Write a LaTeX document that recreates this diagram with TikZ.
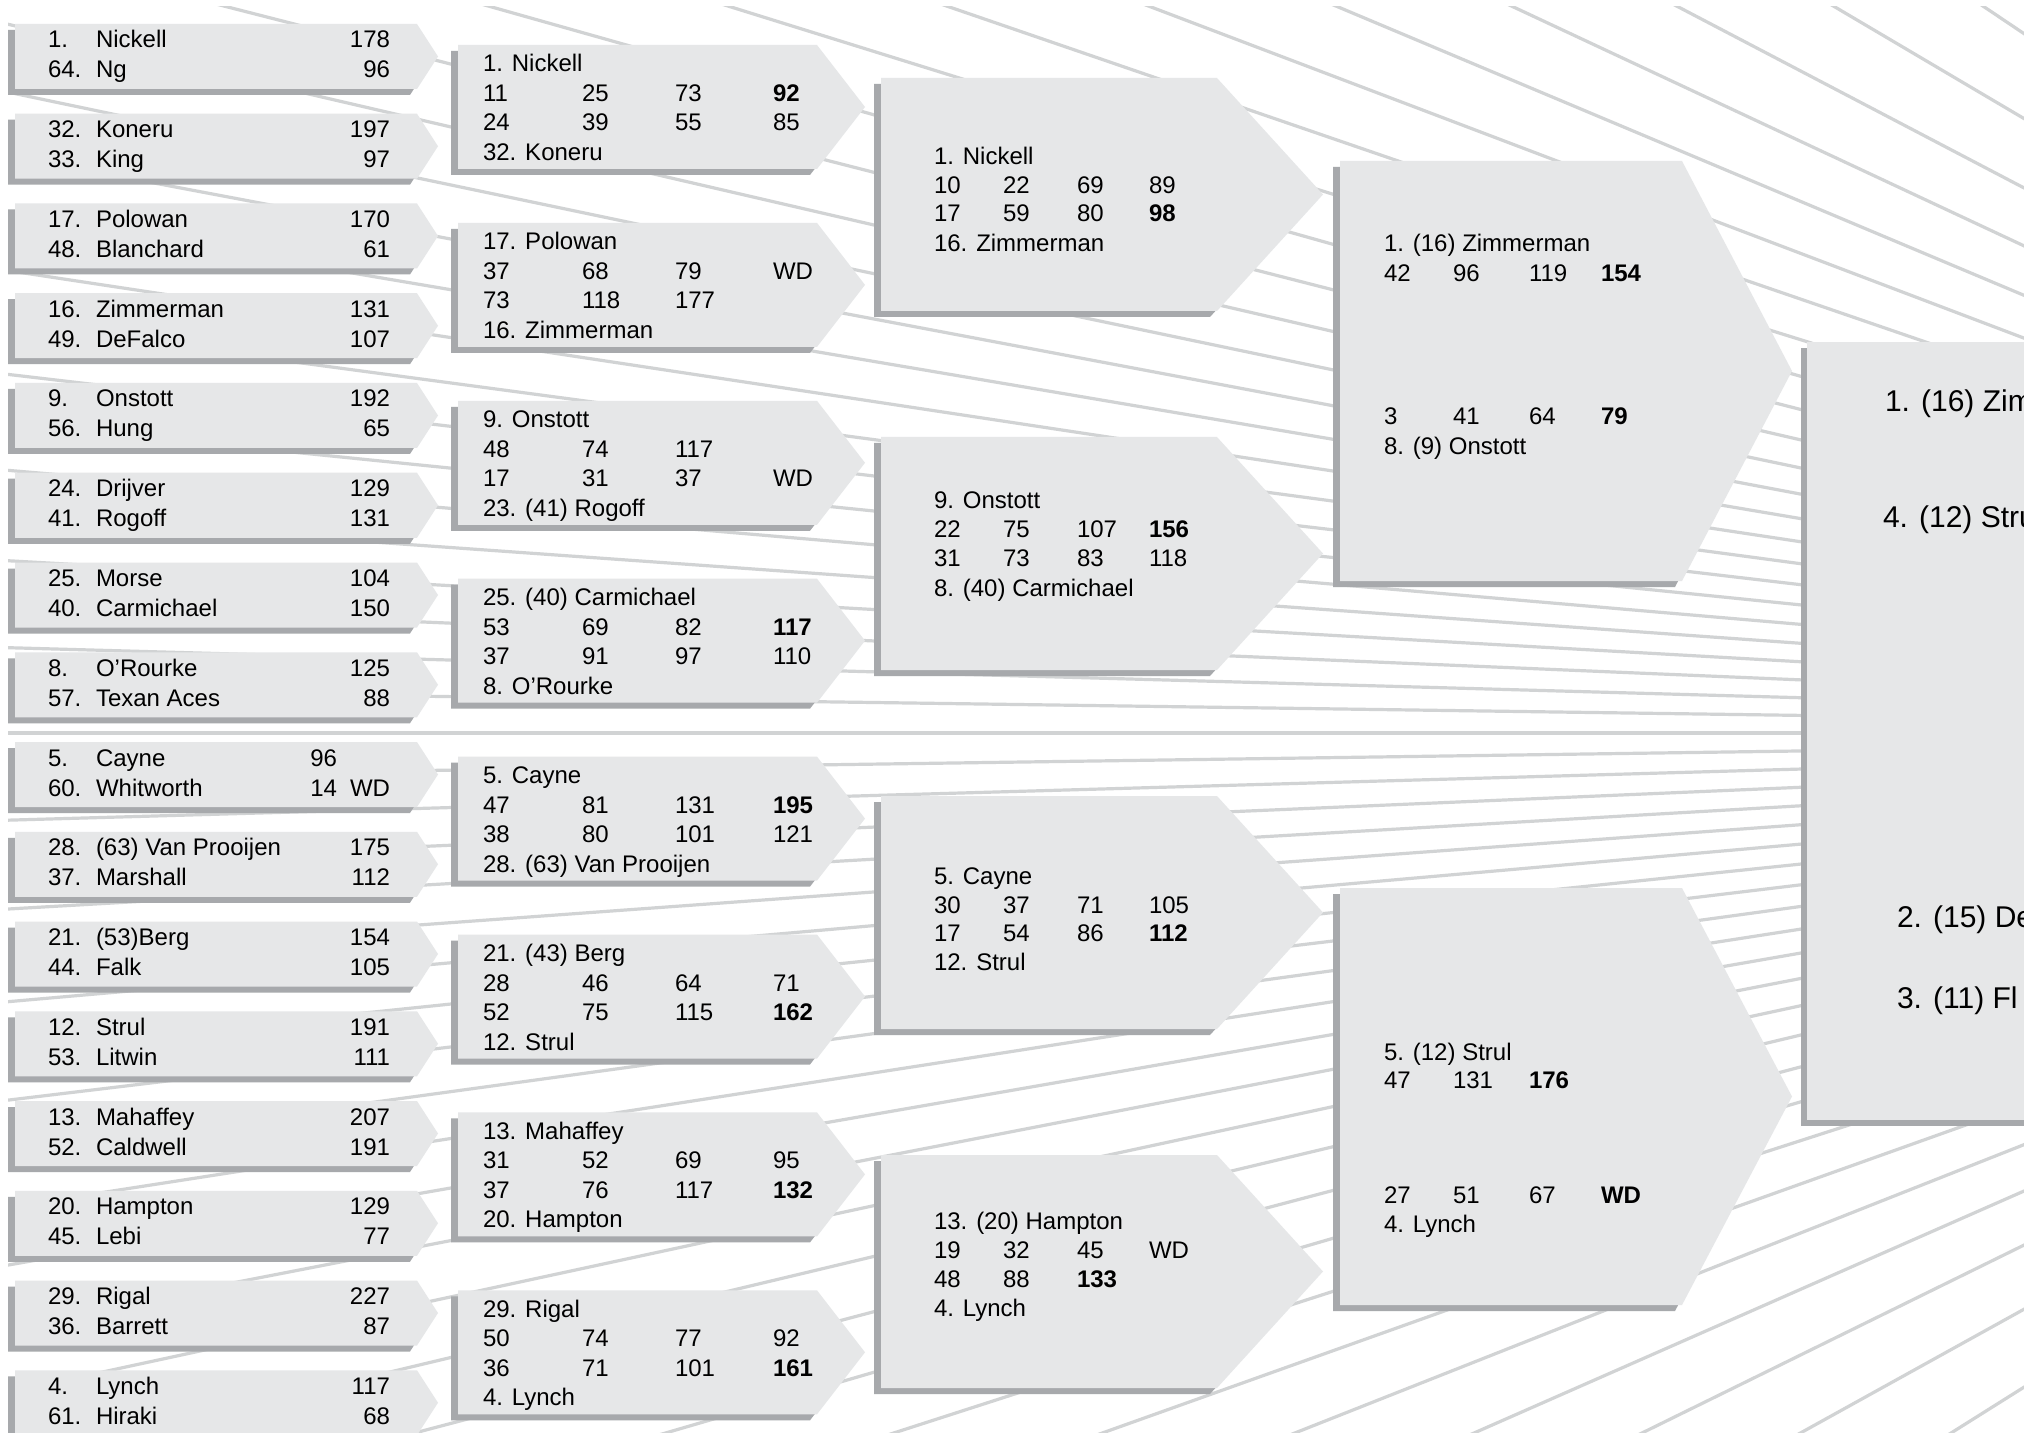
\documentclass[tikz,border=0pt]{standalone}
\usepackage{fontspec}
\setmainfont{Liberation Sans}
\definecolor{boxfill}{HTML}{E6E7E8}
\definecolor{boxshadow}{HTML}{A7A9AC}
\definecolor{rayc}{HTML}{D1D3D4}
\newcommand\fsn{\fontsize{12pt}{14pt}\selectfont}
\newcommand\fsb{\fontsize{15pt}{18pt}\selectfont}
\tikzset{
  txt/.style={inner sep=0pt, outer sep=0pt, anchor=base west, font=\fsn},
  txtr/.style={txt, anchor=base east},
  bigtxt/.style={txt, font=\fsb},
  ray/.style={draw=rayc, line width=1.6pt},
}
% x0, x1 (end of straight part), xt (tip), top, height
\newcommand\arrowbox[5]{%
  \fill[boxshadow] (#1-7,#4+6) -- (#2-7,#4+6) -- (#3-7,#4+#5/2+6) -- (#2-7,#4+#5+6) -- (#1-7,#4+#5+6) -- cycle;
  \fill[boxfill] (#1,#4) -- (#2,#4) -- (#3,#4+#5/2) -- (#2,#4+#5) -- (#1,#4+#5) -- cycle;
}
% first round box: name, top, seedA, nameA, scoreA, seedB, nameB, scoreB
\newcommand\firstround[8]{%
  \arrowbox{15}{417}{438}{#2}{65}
  \node[txt] (#1sa) at (48,#2+24) {#3};
  \node[txt] (#1na) at (96,#2+24) {#4};
  \node[txtr] (#1pa) at (390,#2+24) {#5};
  \node[txt] (#1sb) at (48,#2+54) {#6};
  \node[txt] (#1nb) at (96,#2+54) {#7};
  \node[txtr] (#1pb) at (390,#2+54) {#8};
}
% a row of four numbers: name, y, a, b, c, d
\newcommand\fourrow[6]{%
  \node[txt] (#1a) at (\cxa,#2) {#3};
  \node[txt] (#1b) at (\cxb,#2) {#4};
  \node[txt] (#1c) at (\cxc,#2) {#5};
  \node[txt] (#1d) at (\cxd,#2) {#6};
}
\begin{document}
\begin{tikzpicture}[x=0.5pt,y=-0.5pt]
\useasboundingbox (0,0) rectangle (2024,1433);
\fill[white] (0,0) rectangle (2024,1433);

% background rays
\begin{scope}
  \clip (8,7) rectangle (2024,1433);
  \foreach \k in {0,...,24}{
    \pgfmathsetmacro\th{atan(tan(\k*2.79)/3.5)}
    \draw[ray] (3065,733) -- ++(180+\th:4000);
  }
  \foreach \k in {1,...,23}{
    \pgfmathsetmacro\th{atan(tan(\k*2.85)/3.5)}
    \draw[ray] (3065,733) -- ++(180-\th:4000);
  }
\end{scope}

% ---------- round 1 ----------
\firstround{ra}{24}{1.}{Nickell}{178}{64.}{Ng}{96}
\firstround{rb}{113.75}{32.}{Koneru}{197}{33.}{King}{97}
\firstround{rc}{203.5}{17.}{Polowan}{170}{48.}{Blanchard}{61}
\firstround{rd}{293.25}{16.}{Zimmerman}{131}{49.}{DeFalco}{107}
\firstround{re}{383}{9.}{Onstott}{192}{56.}{Hung}{65}
\firstround{rf}{472.75}{24.}{Drijver}{129}{41.}{Rogoff}{131}
\firstround{rg}{562.5}{25.}{Morse}{104}{40.}{Carmichael}{150}
\firstround{rh}{652.25}{8.}{O’Rourke}{125}{57.}{Texan Aces}{88}
\firstround{ri}{742}{5.}{Cayne}{}{60.}{Whitworth}{WD}
\node[txtr] (ri96) at (337,766) {96};
\node[txtr] (ri14) at (337,796) {14};
\firstround{rj}{831.75}{28.}{(63) Van Prooijen}{175}{37.}{Marshall}{112}
\firstround{rk}{921.5}{21.}{(53)Berg}{154}{44.}{Falk}{105}
\firstround{rl}{1011.25}{12.}{Strul}{191}{53.}{Litwin}{111}
\firstround{rm}{1101}{13.}{Mahaffey}{207}{52.}{Caldwell}{191}
\firstround{rn}{1190.75}{20.}{Hampton}{129}{45.}{Lebi}{77}
\firstround{ro}{1280.5}{29.}{Rigal}{227}{36.}{Barrett}{87}
\firstround{rp}{1370.25}{4.}{Lynch}{117}{61.}{Hiraki}{68}

% ---------- round 2 ----------
\def\cxa{483}\def\cxb{582}\def\cxc{675}\def\cxd{773}
\arrowbox{458}{817}{865}{45}{124}
\node[txt] (sat) at (483,72) {1. Nickell};
\fourrow{sa1}{101.5}{11}{25}{73}{\textbf{92}}
\fourrow{sa2}{131}{24}{39}{55}{85}
\node[txt] (sab) at (483,160.5) {32. Koneru};

\arrowbox{458}{817}{865}{222.9}{124}
\node[txt] (sbt) at (483,249.9) {17. Polowan};
\fourrow{sb1}{279.4}{37}{68}{79}{WD}
\fourrow{sb2}{308.9}{73}{118}{177}{}
\node[txt] (sbb) at (483,338.4) {16. Zimmerman};

\arrowbox{458}{817}{865}{400.8}{124}
\node[txt] (sct) at (483,427.8) {9. Onstott};
\fourrow{sc1}{457.3}{48}{74}{117}{}
\fourrow{sc2}{486.8}{17}{31}{37}{WD}
\node[txt] (scb) at (483,516.3) {23. (41) Rogoff};

\arrowbox{458}{817}{865}{578.7}{124}
\node[txt] (sdt) at (483,605.7) {25. (40) Carmichael};
\fourrow{sd1}{635.2}{53}{69}{82}{\textbf{117}}
\fourrow{sd2}{664.7}{37}{91}{97}{110}
\node[txt] (sdb) at (483,694.2) {8. O’Rourke};

\arrowbox{458}{817}{865}{756.6}{124}
\node[txt] (set) at (483,783.6) {5. Cayne};
\fourrow{se1}{813.1}{47}{81}{131}{\textbf{195}}
\fourrow{se2}{842.6}{38}{80}{101}{121}
\node[txt] (seb) at (483,872.1) {28. (63) Van Prooijen};

\arrowbox{458}{817}{865}{934.5}{124}
\node[txt] (sft) at (483,961.5) {21. (43) Berg};
\fourrow{sf1}{991}{28}{46}{64}{71}
\fourrow{sf2}{1020.5}{52}{75}{115}{\textbf{162}}
\node[txt] (sfb) at (483,1050) {12. Strul};

\arrowbox{458}{817}{865}{1112.4}{124}
\node[txt] (sgt) at (483,1139.4) {13. Mahaffey};
\fourrow{sg1}{1168.9}{31}{52}{69}{95}
\fourrow{sg2}{1198.4}{37}{76}{117}{\textbf{132}}
\node[txt] (sgb) at (483,1227.9) {20. Hampton};

\arrowbox{458}{817}{865}{1290.3}{124}
\node[txt] (sht) at (483,1317.3) {29. Rigal};
\fourrow{sh1}{1346.8}{50}{74}{77}{92}
\fourrow{sh2}{1376.3}{36}{71}{101}{\textbf{161}}
\node[txt] (shb) at (483,1405.8) {4. Lynch};

% ---------- round 3 ----------
\def\cxa{934}\def\cxb{1003}\def\cxc{1077}\def\cxd{1149}
\arrowbox{881}{1217}{1323}{78}{233}
\node[txt] (tat) at (934,165) {1. Nickell};
\fourrow{ta1}{193.5}{10}{22}{69}{89}
\fourrow{ta2}{222}{17}{59}{80}{\textbf{98}}
\node[txt] (tab) at (934,251.5) {16. Zimmerman};

\arrowbox{881}{1217}{1323}{437}{233}
\node[txt] (tbt) at (934,509) {9. Onstott};
\fourrow{tb1}{538}{22}{75}{107}{\textbf{156}}
\fourrow{tb2}{567}{31}{73}{83}{118}
\node[txt] (tbb) at (934,596.5) {8. (40) Carmichael};

\arrowbox{881}{1217}{1323}{796}{233}
\node[txt] (tct) at (934,884) {5. Cayne};
\fourrow{tc1}{913}{30}{37}{71}{105}
\fourrow{tc2}{941.5}{17}{54}{86}{\textbf{112}}
\node[txt] (tcb) at (934,970.5) {12. Strul};

\arrowbox{881}{1217}{1323}{1155}{233}
\node[txt] (tdt) at (934,1229) {13. (20) Hampton};
\fourrow{td1}{1258}{19}{32}{45}{WD}
\fourrow{td2}{1287}{48}{88}{\textbf{133}}{}
\node[txt] (tdb) at (934,1316) {4. Lynch};

% ---------- round 4 ----------
\def\cxa{1384}\def\cxb{1453}\def\cxc{1529}\def\cxd{1601}
\arrowbox{1340}{1682}{1792}{161}{420}
\node[txt] (uat) at (1384,252) {1. (16) Zimmerman};
\fourrow{ua1}{282}{42}{96}{119}{\textbf{154}}
\fourrow{ua2}{425}{3}{41}{64}{\textbf{79}}
\node[txt] (uab) at (1384,455) {8. (9) Onstott};

\arrowbox{1340}{1682}{1792}{888}{417}
\node[txt] (ubt) at (1384,1060) {5. (12) Strul};
\fourrow{ub1}{1088}{47}{131}{\textbf{176}}{}
\fourrow{ub2}{1203}{27}{51}{67}{\textbf{WD}}
\node[txt] (ubb) at (1384,1232) {4. Lynch};

% ---------- round 5 ----------
\fill[boxshadow] (1801,348) rectangle (2040,1126);
\fill[boxfill] (1807,342) rectangle (2040,1120);
\node[bigtxt] (va) at (1885,412) {1. (16) Zimmerman};
\node[bigtxt] (vb) at (1883,527) {4. (12) Strul};
\node[bigtxt] (vc) at (1897,927) {2. (15) De};
\node[bigtxt] (vd) at (1897,1008) {3. (11) Fl};
\end{tikzpicture}
\end{document}
